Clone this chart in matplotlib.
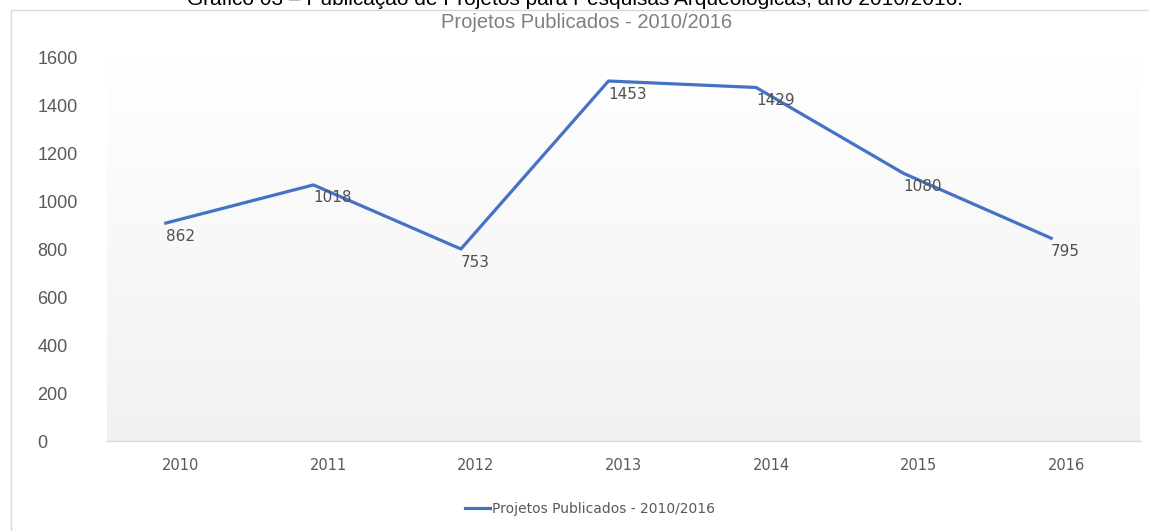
import numpy as np
import matplotlib
matplotlib.use("Agg")
import matplotlib.pyplot as plt
import matplotlib.patches as patches
from matplotlib.transforms import ScaledTranslation

# data
years = ["2010", "2011", "2012", "2013", "2014", "2015", "2016"]
line_values = [908, 1067, 800, 1500, 1473, 1115, 845]
label_values = ["862", "1018", "753", "1453", "1429", "1080", "795"]
yticks = [0, 200, 400, 600, 800, 1000, 1200, 1400, 1600]

series_name = "Projetos Publicados - 2010/2016"
caption = "Gráfico 03 – Publicação de Projetos para Pesquisas Arqueológicas, ano 2010/2016."

W, H = 1149, 531
fig = plt.figure(figsize=(W / 100, H / 100), dpi=100)
fig.patch.set_facecolor("white")

# chart frame (only top and left edges are visible in the reference)
frame = patches.Rectangle((11 / W, -0.05), 1.2, 1 - 10 / H + 0.05, transform=fig.transFigure,
                          fill=False, ec="#d9d9d9", lw=1.0)
fig.patches.append(frame)

ax = fig.add_axes([107 / W, 90 / H, (1140 - 107) / W, (441 - 57) / H])
ax.set_facecolor("none")

# gradient background of the plot area
grad = np.linspace(1.0, 0.0, 256).reshape(-1, 1)
top = np.array([1.0, 1.0, 1.0])
bot = np.array([0.945, 0.945, 0.945])
img = top * grad[..., None] + bot * (1 - grad[..., None])
ax.imshow(img, extent=[0, 1, 0, 1], transform=ax.transAxes, aspect="auto", zorder=0)

x = np.arange(len(years))
shift = ScaledTranslation(-15 / 100, 0, fig.dpi_scale_trans)
ax.plot(x, line_values, color="#4472C4", lw=2.3, solid_joinstyle="round",
        transform=ax.transData + shift, zorder=3, label=series_name)

for xi, v, lab in zip(x, line_values, label_values):
    ax.annotate(lab, (xi, v), xycoords=ax.transData + shift, xytext=(0, -4),
                textcoords="offset points", ha="left", va="top",
                fontsize=11, color="#505050", family="DejaVu Sans", zorder=4)

ax.set_xlim(-0.5, len(years) - 0.5)
ax.set_ylim(0, 1600)
ax.set_yticks(yticks)
ax.set_xticks(x)
ax.set_xticklabels(years, fontsize=10.5, color="#595959", family="DejaVu Sans")
ax.set_yticklabels([str(t) for t in yticks], fontsize=13, color="#595959", family="Liberation Sans")
for lab in ax.get_yticklabels():
    lab.set_horizontalalignment("left")
ax.tick_params(axis="y", length=0, pad=50)
ax.tick_params(axis="x", length=0, pad=12)

for s in ["top", "right", "left"]:
    ax.spines[s].set_visible(False)
ax.spines["bottom"].set_color("#d9d9d9")
ax.spines["bottom"].set_linewidth(1.0)

fig.text(587 / W, 1 - 23 / H, series_name, ha="center", va="center",
         fontsize=14.5, color="#7f7f7f", family="Liberation Sans")
fig.text(575 / W, 1 - 5 / H, caption, ha="center", va="baseline",
         fontsize=15, color="black", family="Liberation Sans")

leg = fig.legend(loc="center", bbox_to_anchor=(590 / W, 1 - 509 / H), frameon=False,
                 fontsize=10, handlelength=1.8, handletextpad=0.2)
for t in leg.get_texts():
    t.set_color("#595959")

fig.savefig("out.png", dpi=100)
